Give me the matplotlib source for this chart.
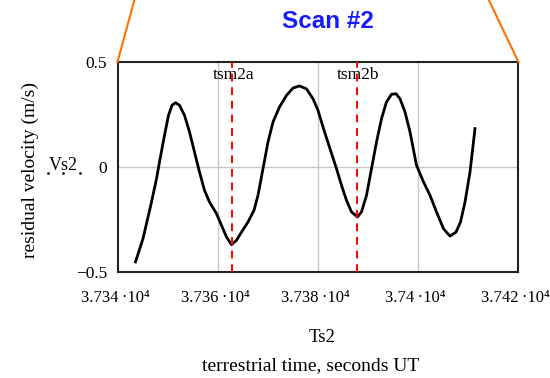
import matplotlib
matplotlib.use("Agg")
import matplotlib.pyplot as plt
import matplotlib.transforms as mtransforms
from matplotlib.lines import Line2D
from matplotlib.ticker import FixedLocator, FuncFormatter

plt.rcParams["font.family"] = "Liberation Serif"

# residual velocity samples for scan #2 (seconds UT, m/s)
ts2 = [37343.5, 37345.0, 37346.7, 37347.7, 37348.3, 37349.3, 37350.1, 37350.8,
       37351.5, 37352.3, 37353.3, 37354.3, 37355.3, 37356.3, 37357.3, 37358.3,
       37359.7, 37360.7, 37361.7, 37362.7, 37363.7, 37364.7, 37366.0, 37367.2,
       37368.0, 37369.0, 37370.0, 37371.0, 37372.3, 37373.7, 37375.0, 37376.3,
       37377.7, 37379.0, 37380.0, 37381.1, 37382.4, 37383.7, 37384.7, 37385.7,
       37386.7, 37387.9, 37388.7, 37389.7, 37390.7, 37391.7, 37392.7, 37393.7,
       37394.7, 37395.6, 37396.4, 37397.4, 37398.4, 37399.7, 37401.1, 37402.4,
       37403.7, 37405.1, 37406.4, 37407.6, 37408.5, 37409.4, 37410.4, 37411.4]
vs2 = [-0.452, -0.341, -0.167, -0.056, 0.024, 0.151, 0.246, 0.294,
       0.306, 0.294, 0.246, 0.167, 0.071, -0.024, -0.111, -0.167,
       -0.222, -0.278, -0.333, -0.370, -0.349, -0.310, -0.262, -0.206,
       -0.135, -0.008, 0.119, 0.214, 0.286, 0.341, 0.376, 0.386,
       0.372, 0.325, 0.270, 0.183, 0.087, -0.008, -0.087, -0.159,
       -0.214, -0.238, -0.214, -0.135, -0.008, 0.119, 0.230, 0.310,
       0.346, 0.349, 0.325, 0.262, 0.167, 0.008, -0.071, -0.135,
       -0.214, -0.294, -0.329, -0.310, -0.262, -0.167, -0.024, 0.183]

markers = {"tsm2a": 37362.7, "tsm2b": 37387.7}
x_ticks = [37340, 37360, 37380, 37400, 37420]
y_ticks = [-0.5, 0, 0.5]

fig = plt.figure(figsize=(5.5, 3.78), dpi=100)
ax = fig.add_axes([118 / 550, 1 - 272 / 378, 400 / 550, 210 / 378])

ax.set_xlim(37340, 37420)
ax.set_ylim(-0.5, 0.5)
ax.xaxis.set_major_locator(FixedLocator(x_ticks))
ax.yaxis.set_major_locator(FixedLocator(y_ticks))


def fmt_x(v, _pos):
    mant = f"{v / 1e4:.4f}".rstrip("0").rstrip(".")
    return mant + "\u2009\u00b710\u2074"


def fmt_y(v, _pos):
    if v == 0:
        return "0"
    return f"{v:.1f}".replace("-", "\u2212")


ax.xaxis.set_major_formatter(FuncFormatter(fmt_x))
ax.yaxis.set_major_formatter(FuncFormatter(fmt_y))
ax.tick_params(length=0, labelsize=12.5)
ax.tick_params(axis="x", pad=13, labelsize=12)
ax.tick_params(axis="y", pad=8)

# nudge the x tick labels a couple of pixels left so the last one stays on the canvas
shift = mtransforms.ScaledTranslation(-2.5 / 100, 0, fig.dpi_scale_trans)
for lbl in ax.get_xticklabels():
    lbl.set_transform(lbl.get_transform() + shift)

for x in x_ticks[1:-1]:
    ax.axvline(x, color="#c8c8c8", lw=1.0, zorder=1)
ax.axhline(0, color="#c8c8c8", lw=1.0, zorder=1)

ax.plot(ts2, vs2, color="black", lw=2.0, zorder=3, solid_joinstyle="round")

for name, t in markers.items():
    ax.text(t + 0.4, 0.44, name, ha="center", va="center", fontsize=12.5, zorder=2)
    ax.axvline(t, color="red", lw=1.4, ls=(0, (4, 3)), zorder=4)

for sp in ax.spines.values():
    sp.set_linewidth(1.5)
    sp.set_color("#222222")

fig.text(328 / 550, 1 - 22 / 378, "Scan #2", color="#1a1aff", fontsize=17.5,
         fontweight="bold", family="Liberation Sans", ha="center", va="center")

fig.text(30 / 550, 1 - 170 / 378, "residual velocity (m/s)", rotation=90,
         fontsize=14, ha="center", va="center")
fig.text(63 / 550, 1 - 165 / 378, "Vs2", fontsize=13, ha="center", va="center")
# placeholder dots under the Vs2 operand
fig.add_artist(Line2D([48 / 550, 63 / 550, 80 / 550], [1 - 173 / 378] * 3,
                      transform=fig.transFigure, ls="none", marker="o", ms=1.1,
                      color="#333333"))

fig.text(322 / 550, 1 - 337 / 378, "Ts2", fontsize=13.5, ha="center", va="center")
fig.text(311 / 550, 1 - 366 / 378, "terrestrial time, seconds UT", fontsize=14,
         ha="center", va="center")

# orange zoom connector lines from the overview panel
fig.add_artist(Line2D([117.5 / 550, 134.4 / 550], [1 - 62 / 378, 1.0],
                      transform=fig.transFigure, color="#ff7000", lw=1.5))
fig.add_artist(Line2D([518.5 / 550, 488.8 / 550], [1 - 62 / 378, 1.0],
                      transform=fig.transFigure, color="#ff7000", lw=1.5))

fig.savefig("out.png", dpi=100)
